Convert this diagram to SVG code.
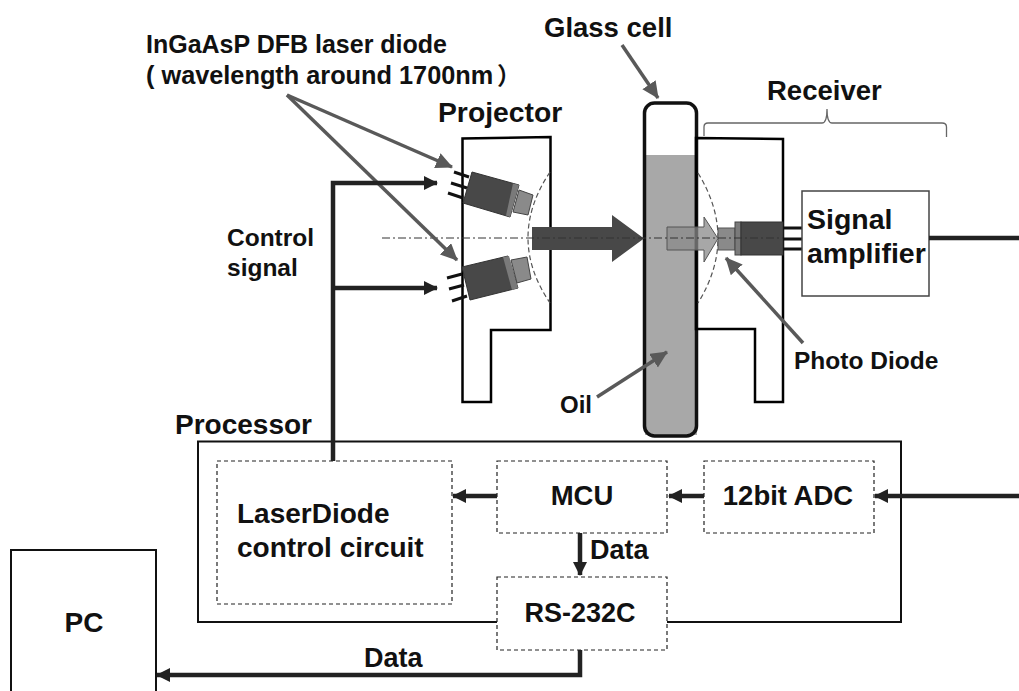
<svg xmlns="http://www.w3.org/2000/svg" width="1019" height="691" viewBox="0 0 1019 691">
<style>
text{font-family:"Liberation Sans","Noto Sans CJK SC",Arial,sans-serif;font-weight:bold;fill:#111}
.k{fill:none;stroke:#000;stroke-width:2.500}
.t{fill:none;stroke:#111;stroke-width:2}
.d{fill:#fff;stroke:#222;stroke-width:1.200;stroke-dasharray:4 3}
.g{stroke:#595959;stroke-width:3.500;fill:none}
.c{stroke:#222;stroke-width:4.500;fill:none}
.ell{fill:none;stroke:#555;stroke-width:1.200;stroke-dasharray:5 3}
</style>
<defs>
<marker id="ga" markerUnits="userSpaceOnUse" markerWidth="20" markerHeight="18" refX="16" refY="8" orient="auto"><path d="M0 0L17 8L0 16Z" fill="#595959"/></marker>
<marker id="ka" markerUnits="userSpaceOnUse" markerWidth="16" markerHeight="16" refX="13" refY="7" orient="auto"><path d="M0 0L14 7L0 14Z" fill="#222"/></marker>
</defs>
<g id="projector">
<path class="k" d="M462.500 402V138.500L550.500 137V330H491V402Z"/>
<path class="ell" d="M550 172Q506 238 550 303"/>
<g id="laser-top"><path d="M472 172L519 185L510 217L463 203Z" fill="#484848" stroke="#333"/><path d="M513 183.500L519 185L510 217L506 215.500Z" fill="#7a7a7a"/><path d="M519 190L533 195L528 215L513 212Z" fill="#8a8a8a" stroke="#444" stroke-width="1"/></g>
<g id="laser-bottom"><path d="M462 267L508 256L518 288L470 300Z" fill="#484848" stroke="#333"/><path d="M503 257L509 256L518 288L512 290Z" fill="#7a7a7a"/><path d="M511 260L527 257L531 279L517 283Z" fill="#8a8a8a" stroke="#444" stroke-width="1"/></g>
<path d="M454 172L469 177M451 183L467 188M448 193L463 198M447 278L462 274M449 289L464 285M452 301L467 296" stroke="#111" stroke-width="3"/>
</g>
<g id="glass-cell">
<rect x="645" y="155" width="52" height="280" fill="#a8a8a8"/>
<rect x="644.500" y="103" width="52" height="333" rx="10" fill="none" stroke="#111" stroke-width="3.500"/>
</g>
<g id="receiver">
<path class="k" d="M696 138L783 139V402H755V329H696Z"/>
<path class="ell" d="M698 173Q738 238 698 303"/>
<g id="photo-diode"><rect x="718" y="228" width="17" height="22" fill="#8a8a8a" stroke="#555" stroke-width="1"/><rect x="735" y="222" width="6" height="33" fill="#7a7a7a" stroke="#444" stroke-width="1"/><rect x="741" y="222" width="42" height="33" fill="#484848" stroke="#333"/></g>
<path d="M783 228H802M783 239H802M783 249H802" stroke="#111" stroke-width="3"/>
</g>
<g id="amp"><rect x="802" y="191" width="127" height="105" fill="#fff" stroke="#444" stroke-width="1.500"/><text x="807" y="229" font-size="28.500">Signal</text><text x="807" y="263" font-size="28.500">amplifier</text></g>
<g id="beam">
<path d="M532 227H612V215L644 238.500L612 262V250H532Z" fill="#484848"/>
<path d="M667 227H704V217L718 238.500L704 262V250H667Z" fill="#8a8a8a" fill-opacity=".75" stroke="#555"/>
<path d="M382 238H783" stroke="#333" stroke-width="1" stroke-dasharray="8 3 2 3"/>
</g>
<path id="receiver-brace" d="M704 136V127Q704 123 708 123H822Q827 123 827 109Q827 123 832 123H942Q946.500 123 946.500 127V137" fill="none" stroke="#666" stroke-width="1.300"/>
<g id="processor">
<path class="t" d="M198 441.500H901V622H198Z"/>
</g>
<g id="ld-circuit"><rect class="d" x="217" y="461" width="235" height="143"/><text x="237" y="523" font-size="28">LaserDiode</text><text x="237" y="557" font-size="28">control circuit</text></g>
<g id="mcu"><rect class="d" x="497" y="461" width="170" height="72"/><text x="582" y="505" font-size="27.500" text-anchor="middle">MCU</text></g>
<g id="adc"><rect class="d" x="704" y="461" width="170" height="72"/><text x="788" y="505" font-size="27.500" text-anchor="middle">12bit ADC</text></g>
<g id="rs232"><rect class="d" x="497" y="577" width="170" height="73"/><text x="580" y="622" font-size="27" text-anchor="middle">RS-232C</text></g>
<g id="pc"><path d="M11 691V550H156V691" fill="none" stroke="#111" stroke-width="2"/><text x="84" y="632" font-size="28" text-anchor="middle">PC</text></g>
<g id="connectors">
<path class="g" d="M287 95L452 167" marker-end="url(#ga)"/>
<path class="g" d="M287 95L457 260" marker-end="url(#ga)"/>
<path class="g" d="M622 45L658 98" marker-end="url(#ga)"/>
<path class="g" d="M803 343L726 258" marker-end="url(#ga)"/>
<path class="g" d="M597 397L667 352" marker-end="url(#ga)"/>
<path class="c" d="M333 461V183H437" marker-end="url(#ka)"/>
<path class="c" d="M333 288H437" marker-end="url(#ka)"/>
<path class="c" d="M929 238H1019"/>
<path class="c" d="M1019 496H875" marker-end="url(#ka)"/>
<path class="c" d="M704 496H669" marker-end="url(#ka)"/>
<path class="c" d="M497 496H453" marker-end="url(#ka)"/>
<path class="c" d="M580 533V575" marker-end="url(#ka)"/>
<path class="c" d="M580 650V675H157" marker-end="url(#ka)"/>
</g>
<g id="labels">
<text x="146" y="53" font-size="25">InGaAsP DFB laser diode</text>
<text x="146" y="84" font-size="25.300">( wavelength around 1700nm<tspan x="497" font-size="24">）</tspan></text>
<text x="544" y="37" font-size="27.500">Glass cell</text>
<text x="438" y="122" font-size="28.300">Projector</text>
<text x="767" y="100" font-size="27.500">Receiver</text>
<text x="227" y="246" font-size="24.500">Control</text>
<text x="227" y="276" font-size="24.500">signal</text>
<text x="794" y="369" font-size="24.500">Photo Diode</text>
<text x="560" y="413" font-size="24">Oil</text>
<text x="175" y="434" font-size="28">Processor</text>
<text x="590" y="559" font-size="27">Data</text>
<text x="364" y="667" font-size="27">Data</text>
</g>
</svg>
